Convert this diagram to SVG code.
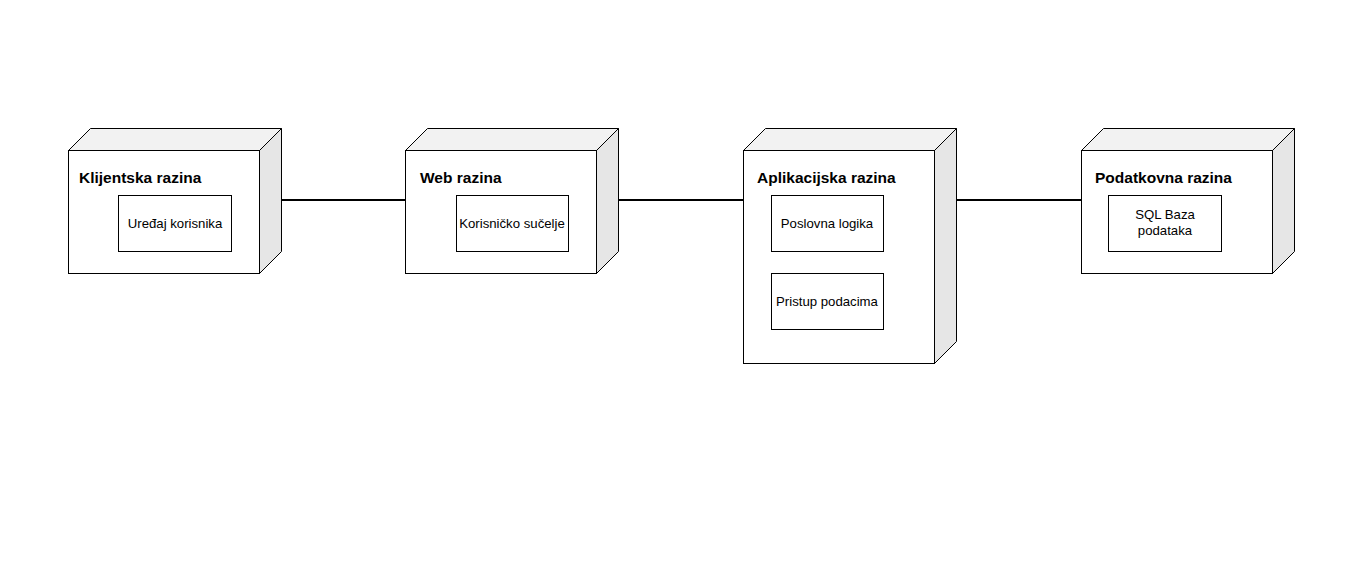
<svg xmlns="http://www.w3.org/2000/svg" width="1361" height="588" viewBox="0 0 1361 588">
<style>
.front{fill:#fff;stroke:#000;stroke-width:1}
.top{fill:#f2f2f2;stroke:#000;stroke-width:1}
.side{fill:#e6e6e6;stroke:#000;stroke-width:1}
.inner{fill:#fff;stroke:#000;stroke-width:1}
.title{font-family:"Liberation Sans",Arial,sans-serif;font-size:15.5px;font-weight:bold;fill:#000}
.lbl{font-family:"Liberation Sans",Arial,sans-serif;font-size:13.2px;fill:#000;text-anchor:middle}
.conn{stroke:#000;stroke-width:2;fill:none}
</style>
<rect width="1361" height="588" fill="#fff"/>
<g id="connectors">
<line class="conn" x1="281" y1="200" x2="405" y2="200"/>
<line class="conn" x1="619" y1="200" x2="743" y2="200"/>
<line class="conn" x1="957" y1="200" x2="1081" y2="200"/>
</g>
<g id="klijentska">
<path class="top" d="M68.5 150.5 L90.5 128.5 L281.5 128.5 L259.5 150.5 Z"/>
<path class="side" d="M259.5 150.5 L281.5 128.5 L281.5 251.5 L259.5 273.5 Z"/>
<rect class="front" x="68.5" y="150.5" width="191" height="123"/>
<text class="title" x="79" y="183">Klijentska razina</text>
<rect class="inner" x="118.5" y="195.5" width="113" height="56"/>
<text class="lbl" x="175" y="228">Uređaj korisnika</text>
</g>
<g id="web">
<path class="top" d="M405.5 150.5 L427.5 128.5 L618.5 128.5 L596.5 150.5 Z"/>
<path class="side" d="M596.5 150.5 L618.5 128.5 L618.5 251.5 L596.5 273.5 Z"/>
<rect class="front" x="405.5" y="150.5" width="191" height="123"/>
<text class="title" x="420" y="183">Web razina</text>
<rect class="inner" x="456.5" y="195.5" width="112" height="56"/>
<text class="lbl" x="512" y="228">Korisničko sučelje</text>
</g>
<g id="aplikacijska">
<path class="top" d="M743.5 150.5 L765.5 128.5 L956.5 128.5 L934.5 150.5 Z"/>
<path class="side" d="M934.5 150.5 L956.5 128.5 L956.5 341.5 L934.5 363.5 Z"/>
<rect class="front" x="743.5" y="150.5" width="191" height="213"/>
<text class="title" x="757" y="183">Aplikacijska razina</text>
<rect class="inner" x="771.5" y="195.5" width="112" height="56"/>
<text class="lbl" x="827" y="228">Poslovna logika</text>
<rect class="inner" x="771.5" y="273.5" width="112" height="56"/>
<text class="lbl" x="827" y="306">Pristup podacima</text>
</g>
<g id="podatkovna">
<path class="top" d="M1081.5 150.5 L1103.5 128.5 L1294.5 128.5 L1272.5 150.5 Z"/>
<path class="side" d="M1272.5 150.5 L1294.5 128.5 L1294.5 251.5 L1272.5 273.5 Z"/>
<rect class="front" x="1081.5" y="150.5" width="191" height="123"/>
<text class="title" x="1095" y="183">Podatkovna razina</text>
<rect class="inner" x="1108.5" y="195.5" width="113" height="56"/>
<text class="lbl" x="1165" y="219">SQL Baza</text>
<text class="lbl" x="1165" y="235">podataka</text>
</g>
</svg>
